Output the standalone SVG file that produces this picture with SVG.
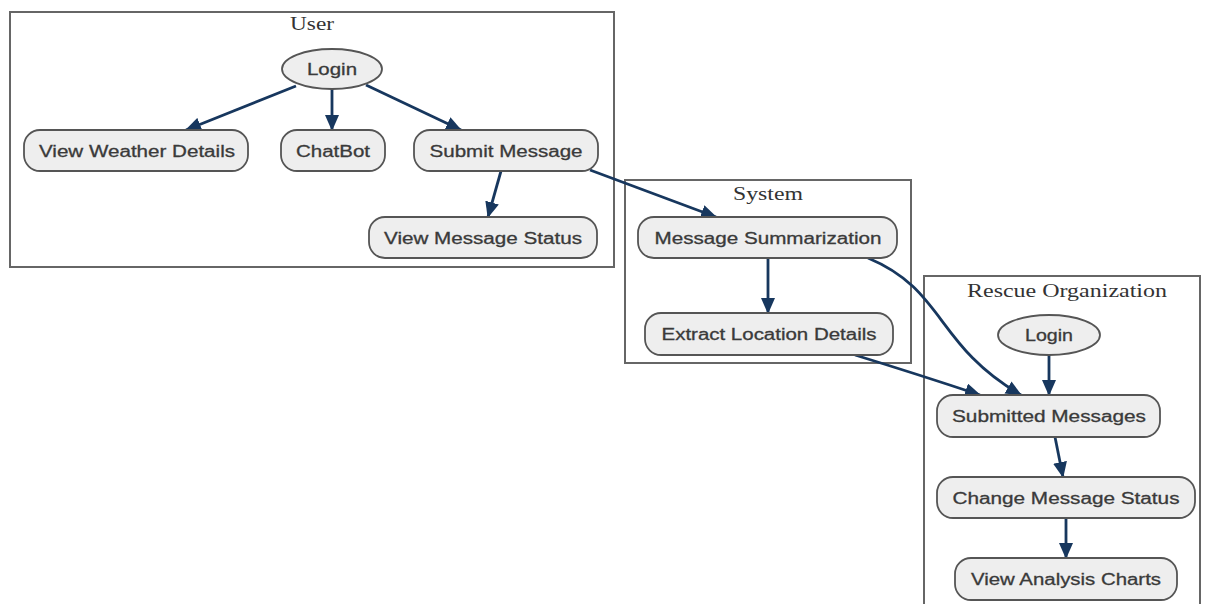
<svg xmlns="http://www.w3.org/2000/svg" width="1206" height="604" viewBox="0 0 1206 604">
<style>
.cluster{fill:#ffffff;stroke:#666666;stroke-width:2}
.ctitle{font-family:"Liberation Serif",serif;font-size:18px;fill:#333333;text-anchor:middle}
.node{fill:#eeeeee;stroke:#555555;stroke-width:1.8}
.lbl{font-family:"Liberation Sans",Arial,sans-serif;font-size:16px;fill:#3a3a3a;stroke:#3a3a3a;stroke-width:0.3;text-anchor:middle;dominant-baseline:central}
.edge{fill:none;stroke:#17375e;stroke-width:2.8}
</style>
<defs>
<marker id="ah" markerUnits="userSpaceOnUse" markerWidth="16" markerHeight="14" refX="15" refY="7" orient="auto">
<path d="M0,0 L16,7 L0,14 Z" fill="#17375e"/>
</marker>
</defs>
<rect width="1206" height="604" fill="#ffffff"/>
<g id="clusters">
<rect class="cluster" x="10" y="12" width="604" height="255"/>
<text class="ctitle" x="312" y="30" textLength="44" lengthAdjust="spacingAndGlyphs">User</text>
<rect class="cluster" x="625" y="180" width="286" height="183"/>
<text class="ctitle" x="768" y="200" textLength="70" lengthAdjust="spacingAndGlyphs">System</text>
<rect class="cluster" x="924" y="276" width="276" height="332"/>
<text class="ctitle" x="1067" y="297" textLength="200" lengthAdjust="spacingAndGlyphs">Rescue Organization</text>
</g>
<g id="connectors">
<path class="edge" d="M296,86 L186,130" marker-end="url(#ah)"/>
<path class="edge" d="M332,89 L332,130" marker-end="url(#ah)"/>
<path class="edge" d="M366,85 L461,130" marker-end="url(#ah)"/>
<path class="edge" d="M501,171 L488,217" marker-end="url(#ah)"/>
<path class="edge" d="M590,170 L716,217" marker-end="url(#ah)"/>
<path class="edge" d="M768,258 L768,313" marker-end="url(#ah)"/>
<path class="edge" d="M868,258 C945,290 935,345 1021,395" marker-end="url(#ah)"/>
<path class="edge" d="M855,355 Q920,375 980,395" marker-end="url(#ah)"/>
<path class="edge" d="M1049,355 L1049,395" marker-end="url(#ah)"/>
<path class="edge" d="M1055,437 L1063,477" marker-end="url(#ah)"/>
<path class="edge" d="M1066,518 L1066,558" marker-end="url(#ah)"/>
</g>
<g id="user_login">
<ellipse class="node" cx="332" cy="69" rx="50" ry="20"/>
<text class="lbl" x="332" y="69" textLength="50" lengthAdjust="spacingAndGlyphs">Login</text>
</g>
<g id="view_weather_details">
<rect class="node" x="24" y="130" width="224" height="41" rx="16"/>
<text class="lbl" x="137" y="151" textLength="196" lengthAdjust="spacingAndGlyphs">View Weather Details</text>
</g>
<g id="chatbot">
<rect class="node" x="281" y="130" width="104" height="41" rx="16"/>
<text class="lbl" x="333" y="151" textLength="74" lengthAdjust="spacingAndGlyphs">ChatBot</text>
</g>
<g id="submit_message">
<rect class="node" x="414" y="130" width="184" height="41" rx="16"/>
<text class="lbl" x="506" y="151" textLength="153" lengthAdjust="spacingAndGlyphs">Submit Message</text>
</g>
<g id="view_message_status">
<rect class="node" x="369" y="217" width="228" height="41" rx="16"/>
<text class="lbl" x="483" y="238" textLength="198" lengthAdjust="spacingAndGlyphs">View Message Status</text>
</g>
<g id="message_summarization">
<rect class="node" x="638" y="217" width="259" height="41" rx="16"/>
<text class="lbl" x="768" y="238" textLength="227" lengthAdjust="spacingAndGlyphs">Message Summarization</text>
</g>
<g id="extract_location_details">
<rect class="node" x="645" y="313" width="248" height="42" rx="16"/>
<text class="lbl" x="769" y="334" textLength="215" lengthAdjust="spacingAndGlyphs">Extract Location Details</text>
</g>
<g id="rescue_login">
<ellipse class="node" cx="1049" cy="335" rx="51" ry="20"/>
<text class="lbl" x="1049" y="335" textLength="48" lengthAdjust="spacingAndGlyphs">Login</text>
</g>
<g id="submitted_messages">
<rect class="node" x="937" y="395" width="223" height="42" rx="16"/>
<text class="lbl" x="1049" y="416" textLength="194" lengthAdjust="spacingAndGlyphs">Submitted Messages</text>
</g>
<g id="change_message_status">
<rect class="node" x="937" y="477" width="258" height="41" rx="16"/>
<text class="lbl" x="1066" y="498" textLength="227" lengthAdjust="spacingAndGlyphs">Change Message Status</text>
</g>
<g id="view_analysis_charts">
<rect class="node" x="955" y="558" width="222" height="42" rx="16"/>
<text class="lbl" x="1066" y="579" textLength="190" lengthAdjust="spacingAndGlyphs">View Analysis Charts</text>
</g>
</svg>
